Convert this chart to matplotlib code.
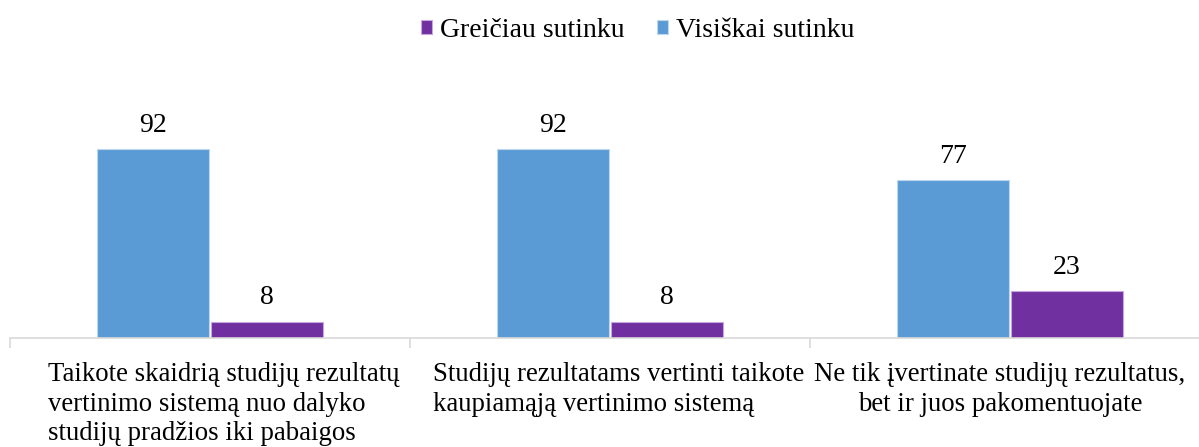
import matplotlib.pyplot as plt
import numpy as np

plt.rcParams['font.family'] = ['Liberation Serif', 'DejaVu Serif']

categories = [
    "Taikote skaidrią studijų rezultatų\nvertinimo sistemą nuo dalyko\nstudijų pradžios iki pabaigos",
    "Studijų rezultatams vertinti taikote\nkaupiamąją vertinimo sistemą",
    "Ne tik įvertinate studijų rezultatus,\nbet ir juos pakomentuojate",
]
visiskai = [92, 92, 77]
greiciau = [8, 8, 23]

blue = '#5B9BD5'
purple = '#7030A0'

fig = plt.figure(figsize=(11.99, 4.47), dpi=100)
# axis spans past the right edge like the original export
ax = fig.add_axes([10 / 1199, (447 - 338) / 447, 1200 / 1199, 205 / 447])

x = np.arange(len(categories))
w = 0.28
b1 = ax.bar(x - w / 2 - 0.002, visiskai, w, color=blue, edgecolor='#BDD7EE', linewidth=0.8,
            label='Visiškai sutinku')
b2 = ax.bar(x + w / 2 + 0.002, greiciau, w, color=purple, edgecolor='#C9A6E0', linewidth=0.8,
            label='Greičiau sutinku')

for bars in (b1, b2):
    for r in bars:
        ax.annotate(f"{r.get_height():g}", (r.get_x() + r.get_width() / 2, r.get_height()),
                    xytext=(0, 8), textcoords='offset points', ha='center', va='bottom',
                    fontsize=20)

ax.set_xlim(-0.5, 2.5)
ax.set_ylim(0, 100)
ax.set_yticks([])
for s in ('top', 'right', 'left'):
    ax.spines[s].set_visible(False)
ax.spines['bottom'].set_color('#D9D9D9')
ax.spines['bottom'].set_linewidth(1.2)

ax.set_xticks([-0.5, 0.5, 1.5, 2.5])
ax.set_xticklabels([])
ax.tick_params(axis='x', length=7, color='#D9D9D9', width=1.2)

# label placement as wrapped in the original (first two flush left, last centred)
label_x = [-0.405, 0.5575, 1.975]
label_ha = ['left', 'left', 'center']
for c, lx, ha in zip(categories, label_x, label_ha):
    ax.text(lx, -0.115, c, transform=ax.get_xaxis_transform(), ha=ha, va='top',
            fontsize=19.3, linespacing=1.26, multialignment=ha)

h, l = ax.get_legend_handles_labels()
fig.legend(h[::-1], l[::-1], loc='center', bbox_to_anchor=(0.532, 0.932), ncol=2,
           frameon=False, fontsize=20, handlelength=0.4, handleheight=0.4,
           handletextpad=0.3, columnspacing=1.15)

fig.savefig('out.png', dpi=100)
